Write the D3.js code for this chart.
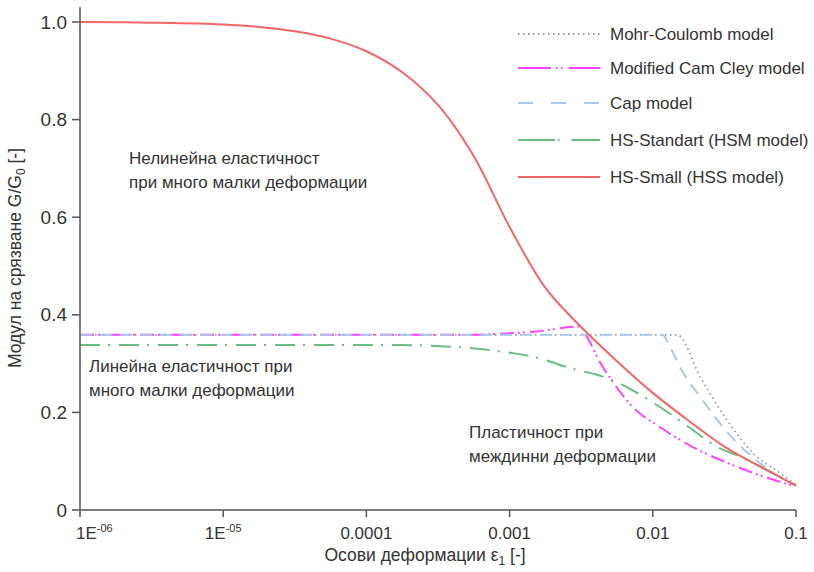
<!DOCTYPE html>
<html>
<head>
<meta charset="utf-8">
<script src="https://cdn.jsdelivr.net/npm/d3@7"></script>
<style>
  body { margin: 0; background: #fff; }
  text { font-family: "Liberation Sans", Arial, sans-serif; fill: #333; }
</style>
</head>
<body>
<svg id="chart" width="814" height="572"></svg>
<script>
// strain values (axial strain) and G/G0 for each model
const xTicks = [1e-6, 1e-5, 1e-4, 1e-3, 1e-2, 1e-1];
const xTickLabels = [["1E", "-06"], ["1E", "-05"], ["0.0001"], ["0.001"], ["0.01"], ["0.1"]];
const yTicks = [0, 0.2, 0.4, 0.6, 0.8, 1.0];
const yTickLabels = ["0", "0.2", "0.4", "0.6", "0.8", "1.0"];

const mcStrain = [1e-6, 0.0148, 0.0214, 0.033, 0.05, 0.077, 0.1];
const mcValue  = [0.359, 0.359, 0.273, 0.184, 0.117, 0.076, 0.052];

const mccStrain = [1e-6, 5e-4, 6.9e-4, 1.55e-3, 3.1e-3, 3.47e-3, 4.28e-3, 5.27e-3, 7.24e-3, 0.0112, 0.019, 0.0363, 0.063, 0.1];
const mccValue  = [0.359, 0.359, 0.360, 0.366, 0.376, 0.355, 0.303, 0.262, 0.211, 0.170, 0.129, 0.092, 0.066, 0.048];

const capStrain = [1e-6, 0.0117, 0.0132, 0.0163, 0.0214, 0.0282, 0.039, 0.056, 0.1];
const capValue  = [0.359, 0.359, 0.334, 0.281, 0.232, 0.184, 0.137, 0.096, 0.05];

const hsmStrain = [1e-6, 1.7e-4, 4.27e-4, 8.1e-4, 1.45e-3, 2.95e-3, 4.07e-3, 4.8e-3, 0.0112, 0.0182, 0.0282, 0.0427, 0.063, 0.1];
const hsmValue  = [0.338, 0.338, 0.334, 0.326, 0.314, 0.287, 0.277, 0.270, 0.211, 0.168, 0.129, 0.107, 0.082, 0.05];

const hssStrain = [1e-6, 3.16e-6, 1e-5, 1.78e-5, 3.16e-5, 5.62e-5, 1e-4, 1.78e-4, 3.16e-4, 5.62e-4, 1e-3, 1.78e-3, 3.16e-3, 5.62e-3, 0.01, 0.0178, 0.0316, 0.0562, 0.1];
const hssValue  = [1.0, 0.9985, 0.995, 0.990, 0.981, 0.966, 0.940, 0.897, 0.830, 0.725, 0.580, 0.455, 0.375, 0.305, 0.240, 0.183, 0.130, 0.089, 0.05];

const seriesNames = ["Mohr-Coulomb model", "Modified Cam Cley model", "Cap model", "HS-Standart (HSM model)", "HS-Small (HSS model)"];

const svg = d3.select("#chart");
const x = d3.scaleLog().domain([1e-6, 0.1]).range([80, 796]);
const y = d3.scaleLinear().domain([0, 1]).range([510, 22]);

const series = [
  { name: seriesNames[0], xs: mcStrain, ys: mcValue, color: "#9a9a9a", dash: "1.5,3.5", legendDash: "1.5,3.5", w: 1.8 },
  { name: seriesNames[1], xs: mccStrain, ys: mccValue, color: "#ff44ff", dash: "14,4,2,3,2,5", legendDash: "33,5,1.5,3.5,1.5,6", w: 2 },
  { name: seriesNames[2], xs: capStrain, ys: capValue, color: "#a8c8e6", dash: "12,8", legendDash: "15,18", w: 2 },
  { name: seriesNames[3], xs: hsmStrain, ys: hsmValue, color: "#69bd84", dash: "20,8,2,9", legendDash: "37,3,1.5,12", w: 2 },
  { name: seriesNames[4], xs: hssStrain, ys: hssValue, color: "#f36666", dash: null, legendDash: null, w: 2 }
];

const line = d3.line()
  .x(d => x(d[0]))
  .y(d => y(d[1]))
  .curve(d3.curveMonotoneX);
const smoothLine = d3.line()
  .x(d => x(d[0]))
  .y(d => y(d[1]))
  .curve(d3.curveCatmullRom.alpha(0.5));

// curves
series.forEach((s, i) => {
  svg.append("path")
    .datum(s.xs.map((v, j) => [v, s.ys[j]]))
    .attr("fill", "none")
    .attr("stroke", s.color)
    .attr("stroke-width", s.w)
    .attr("stroke-dasharray", s.dash)
    .attr("d", i == 4 ? smoothLine : line);
});

// axes
const axisColor = "#555";
svg.append("line")
  .attr("x1", x(1e-6)).attr("x2", x(1e-6))
  .attr("y1", y(0)).attr("y2", y(1.03))
  .attr("stroke", axisColor).attr("stroke-width", 1.5);
svg.append("line")
  .attr("x1", x(1e-6)).attr("x2", x(0.1))
  .attr("y1", y(0)).attr("y2", y(0))
  .attr("stroke", axisColor).attr("stroke-width", 1.5);

yTicks.forEach((t, i) => {
  svg.append("line")
    .attr("x1", x(1e-6) - 8).attr("x2", x(1e-6))
    .attr("y1", y(t)).attr("y2", y(t))
    .attr("stroke", axisColor).attr("stroke-width", 1.5);
  svg.append("text")
    .attr("x", x(1e-6) - 13).attr("y", y(t))
    .attr("dy", "0.35em")
    .attr("text-anchor", "end")
    .style("font-size", "19px")
    .text(yTickLabels[i]);
});

xTicks.forEach((t, i) => {
  svg.append("line")
    .attr("x1", x(t)).attr("x2", x(t))
    .attr("y1", y(0)).attr("y2", y(0) + 7)
    .attr("stroke", axisColor).attr("stroke-width", 1.5);
  const lab = svg.append("text")
    .attr("x", i == 0 ? x(t) - 4 : x(t)).attr("y", y(0) + 29)
    .attr("text-anchor", i == 0 ? "start" : "middle")
    .style("font-size", "17px");
  lab.append("tspan").text(xTickLabels[i][0]);
  if (xTickLabels[i][1]) {
    lab.append("tspan").attr("dy", -7).style("font-size", "11px").text(xTickLabels[i][1]);
  }
});

// axis titles
const xTitle = svg.append("text")
  .attr("x", 425).attr("y", 561)
  .attr("text-anchor", "middle")
  .style("font-size", "17.5px");
xTitle.append("tspan").text("Осови деформации ε");
xTitle.append("tspan").attr("dy", 4).style("font-size", "12px").text("1");
xTitle.append("tspan").attr("dy", -4).text(" [-]");

const yTitle = svg.append("text")
  .attr("transform", "translate(21,258) rotate(-90)")
  .attr("text-anchor", "middle")
  .style("font-size", "17.5px");
yTitle.append("tspan").text("Модул на срязване G/G");
yTitle.append("tspan").attr("dy", 4).style("font-size", "12px").text("0");
yTitle.append("tspan").attr("dy", -4).text(" [-]");

// annotations
const notes = [
  { x: 129, y: 164, lines: ["Нелинейна еластичност", "при много малки деформации"] },
  { x: 89, y: 372, lines: ["Линейна еластичност при", "много малки деформации"] },
  { x: 469, y: 438, lines: ["Пластичност при", "междинни деформации"] }
];
notes.forEach(n => {
  const t = svg.append("text").style("font-size", "17px");
  n.lines.forEach((l, i) => {
    t.append("tspan").attr("x", n.x).attr("y", n.y + i * 23.5).text(l);
  });
});

// legend
const legend = svg.append("g");
const legendY = [34, 68, 103, 140, 177];
series.forEach((s, i) => {
  legend.append("line")
    .attr("x1", 518).attr("x2", 600)
    .attr("y1", legendY[i]).attr("y2", legendY[i])
    .attr("stroke", s.color)
    .attr("stroke-width", s.w)
    .attr("stroke-dasharray", s.legendDash);
  legend.append("text")
    .attr("x", 610).attr("y", legendY[i])
    .attr("dy", "0.35em")
    .style("font-size", "17px")
    .text(s.name);
});
</script>
</body>
</html>
